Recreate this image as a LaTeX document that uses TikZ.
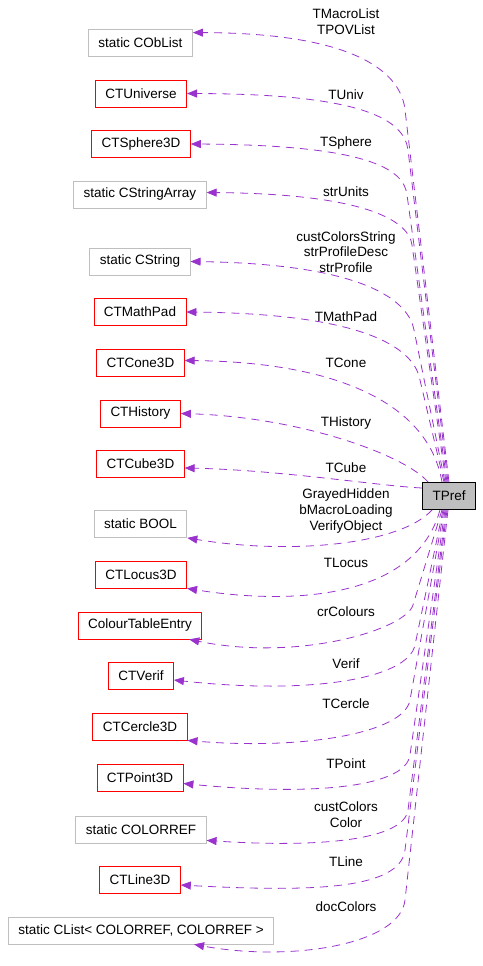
\documentclass[tikz,border=0pt]{standalone}
\usepackage{fontspec}
\setmainfont{Liberation Sans}
\usetikzlibrary{arrows.meta}
\definecolor{clsLine}{HTML}{FF0000}
\definecolor{statLine}{HTML}{BFBFBF}
\definecolor{focFill}{HTML}{BFBFBF}
\definecolor{useLine}{HTML}{9A32CD}

\begin{document}
\begin{tikzpicture}[
  x=1pt, y=-1pt,
  font=\fontsize{13.5}{15.8}\selectfont,
  box/.style  ={draw, line width=0.8pt, inner xsep=10pt, inner ysep=0pt, minimum height=27pt},
  klass/.style={box, draw=clsLine},
  stat/.style ={box, draw=statLine},
  focus/.style={box, fill=focFill, draw=black},
  lab/.style  ={align=center, inner sep=0pt},
  uses/.style ={-{Triangle[length=10pt, width=8pt]}, draw=useLine, line width=0.8pt, dash pattern=on 8pt off 6pt},
]
\useasboundingbox (0,0) rectangle (482,966);
% ----- members above -----
\node[stat]  (OBL) at (140.5,42.5) {static CObList};
\node[klass] (UNI) at (141,93.5)   {CTUniverse};
\node[klass] (SPH) at (141,144)    {CTSphere3D};
\node[stat]  (SAR) at (140,194.5)  {static CStringArray};
\node[stat]  (STR) at (140,261.5)  {static CString};
\node[klass] (MPD) at (140,312)    {CTMathPad};
\node[klass] (CON) at (140.5,362.5) {CTCone3D};
\node[klass] (HIS) at (140.5,413.5) {CTHistory};
\node[klass] (CUB) at (140.5,464)  {CTCube3D};
% ----- focus class -----
\node[focus] (TP) at (449,496) {TPref};
% ----- members below -----
\node[stat]  (BOL) at (140.5,524)  {static BOOL};
\node[klass] (LOC) at (141,574.5)  {CTLocus3D};
\node[klass] (CTE) at (140,625.5)  {ColourTableEntry};
\node[klass] (VER) at (141,676)    {CTVerif};
\node[klass] (CER) at (140,726.5)  {CTCercle3D};
\node[klass] (PNT) at (140,777.5)  {CTPoint3D};
\node[stat]  (CRF) at (141,829.5)  {static COLORREF};
\node[klass] (LIN) at (140,880)    {CTLine3D};
\node[stat]  (CLS) at (141,930.5)  {static CList< COLORREF, COLORREF >};
% ----- labels -----
\node[lab] (lOBL) at (346,22)  {TMacroList\\TPOVList};
\node[lab] (lUNI) at (346,95)  {TUniv};
\node[lab] (lSPH) at (346,143) {TSphere};
\node[lab] (lSAR) at (346,192) {strUnits};
\node[lab] (lSTR) at (346,252) {custColorsString\\strProfileDesc\\strProfile};
\node[lab] (lMPD) at (346,317) {TMathPad};
\node[lab] (lCON) at (346,363) {TCone};
\node[lab] (lHIS) at (346,423) {THistory};
\node[lab] (lCUB) at (346,468) {TCube};
\node[lab] (lBOL) at (346,511) {GrayedHidden\\bMacroLoading\\VerifyObject};
\node[lab] (lLOC) at (346,563) {TLocus};
\node[lab] (lCTE) at (346,612) {crColours};
\node[lab] (lVER) at (346,664) {Verif};
\node[lab] (lCER) at (346,704) {TCercle};
\node[lab] (lPNT) at (346,764) {TPoint};
\node[lab] (lCRF) at (346,815) {custColors\\Color};
\node[lab] (lLIN) at (346,862) {TLine};
\node[lab] (lCLS) at (346,907) {docColors};
% ----- upper connectors -----
\draw[uses] (TP.north) -- (405,110) .. controls (402,80) and (370,33) .. ([yshift=-4pt]OBL.north east);
\draw[uses] ([xshift=-1pt]TP.north) -- (408,150) .. controls (404,120) and (365,94) .. (UNI.east);
\draw[uses] ([xshift=-2pt]TP.north) -- (407,195) .. controls (404,168) and (365,145) .. (SPH.east);
\draw[uses] ([xshift=-3pt]TP.north) -- (412,245) .. controls (409,222) and (370,194) .. ([yshift=2pt]SAR.east);
\draw[uses] ([xshift=-4pt]TP.north) -- (414,330) .. controls (409,303) and (370,264) .. (STR.east);
\draw[uses] ([xshift=-5pt]TP.north) -- (420,380) .. controls (415,352) and (375,314) .. (MPD.east);
\draw[uses] ([xshift=-7pt]TP.north) .. controls (428,400) and (330,362) .. ([yshift=2pt]CON.east);
\draw[uses] ([xshift=6pt]TP.north west) .. controls (405,455) and (300,417) .. (HIS.east);
\draw[uses] ([yshift=8pt]TP.west) .. controls (380,486) and (280,470) .. ([yshift=-4pt]CUB.east);
% ----- lower connectors -----
\draw[uses] ([xshift=10pt]TP.south west) .. controls (400,545) and (290,555) .. (BOL.south east);
\draw[uses] ([xshift=-9pt]TP.south) .. controls (415,600) and (290,605) .. (LOC.south east);
\draw[uses] ([xshift=-7pt]TP.south) -- (413,605) .. controls (406,629) and (300,662) .. ([xshift=-13pt]CTE.south east);
\draw[uses] ([xshift=-6pt]TP.south) -- (415,645) .. controls (408,679) and (310,695) .. ([yshift=-4pt]VER.east);
\draw[uses] ([xshift=-5pt]TP.south) -- (410,700) .. controls (404,734) and (300,750) .. (CER.south east);
\draw[uses] ([xshift=-4pt]TP.south) -- (410,755) .. controls (405,790) and (300,795) .. ([yshift=-6pt]PNT.east);
\draw[uses] ([xshift=-3pt]TP.south) -- (408,810) .. controls (404,840) and (320,848) .. ([yshift=3pt]CRF.south east);
\draw[uses] ([xshift=-2pt]TP.south) -- (405,850) .. controls (400,890) and (310,892) .. ([yshift=-5pt]LIN.east);
\draw[uses] ([xshift=-1pt]TP.south) -- (405,900) .. controls (400,945) and (290,962) .. ([xshift=-80pt]CLS.south east);
\end{tikzpicture}
\end{document}
